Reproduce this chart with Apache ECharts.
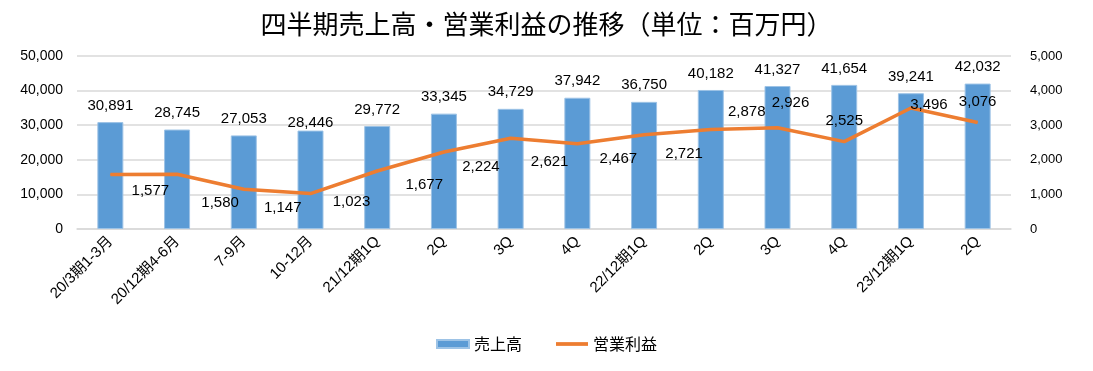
<!DOCTYPE html>
<html>
<head>
<meta charset="utf-8">
<script src="https://cdn.jsdelivr.net/npm/echarts@6/dist/echarts.min.js"></script>
<style>
html,body{margin:0;padding:0;background:#fff;}
#chart{width:1093px;height:371px;}
</style>
</head>
<body>
<div id="chart"></div>
<script>
const categories = ["20/3期1-3月","20/12期4-6月","7-9月","10-12月","21/12期1Q","2Q","3Q","4Q","22/12期1Q","2Q","3Q","4Q","23/12期1Q","2Q"];
const sales = [30891,28745,27053,28446,29772,33345,34729,37942,36750,40182,41327,41654,39241,42032];
const operatingProfit = [1577,1580,1147,1023,1677,2224,2621,2467,2721,2878,2926,2525,3496,3076];
const leftTicks = [0,10000,20000,30000,40000,50000];
const rightTicks = [0,1000,2000,3000,4000,5000];

// label placement tweaks (as in the original, manually placed labels)
const lineLabelOffsets = [[40,16],[43,29],[39,19],[41,8],[47,14],[37,15],[39,24],[41,15],[40,19],[36,-18],[13,-25],[0,-21],[18,-3],[0,-21]];
const barLabelOffsets = [[0,0],[0,0],[0,0],[0,9],[0,0],[0,0],[0,0],[0,0],[0,0],[0,0],[0,0],[0,0],[0,0],[0,0]];

const FONT = '"Liberation Sans","Noto Sans CJK JP",sans-serif';
const fmt = v => v.toLocaleString('en-US');

const chart = echarts.init(document.getElementById('chart'), null, {renderer:'canvas'});
chart.setOption({
  animation:false,
  textStyle:{fontFamily:FONT},
  title:{
    text:'四半期売上高・営業利益の推移（単位：百万円）',
    left:'center', top:6,
    textStyle:{fontFamily:'"Noto Sans CJK JP",sans-serif',fontSize:26,fontWeight:'normal',color:'#000'}
  },
  legend:{
    bottom:14, left:'center', itemGap:34,
    textStyle:{fontFamily:'"Noto Sans CJK JP",sans-serif',fontSize:16,color:'#000'},
    data:[
      {name:'売上高', icon:'rect', itemStyle:{color:'#5b9bd5'}},
      {name:'営業利益', icon:'path://M0,0H34V4H0Z', itemStyle:{color:'#ed7d31'}}
    ],
    itemWidth:32, itemHeight:8
  },
  grid:{left:77,right:82,top:56,bottom:142},
  xAxis:{
    type:'category', data:categories,
    axisLine:{show:true,lineStyle:{color:'#d9d9d9',width:1.5}},
    axisTick:{show:false},
    axisLabel:{rotate:45,fontSize:15,color:'#000',margin:10,interval:0,fontFamily:FONT}
  },
  yAxis:[
    {type:'value',min:leftTicks[0],max:leftTicks[leftTicks.length-1],interval:leftTicks[1]-leftTicks[0],
     axisLine:{show:false},axisTick:{show:false},
     splitLine:{lineStyle:{color:'#d9d9d9',width:1.5}},
     axisLabel:{fontSize:14,color:'#000',margin:14,formatter:v=>fmt(v)}},
    {type:'value',min:rightTicks[0],max:rightTicks[rightTicks.length-1],interval:rightTicks[1]-rightTicks[0],
     axisLine:{show:false},axisTick:{show:false},splitLine:{show:false},
     axisLabel:{fontSize:13,color:'#000',margin:19,formatter:v=>fmt(v)}}
  ],
  series:[
    {
      name:'売上高', type:'bar', yAxisIndex:0, barWidth:26,
      itemStyle:{color:'#5b9bd5',borderColor:'#9dc3e6',borderWidth:1},
      data:sales.map((v,i)=>({value:v,label:{offset:barLabelOffsets[i]}})),
      label:{show:true,position:'top',distance:9,fontSize:15,color:'#000',fontFamily:FONT,formatter:p=>fmt(p.value)}
    },
    {
      name:'営業利益', type:'line', yAxisIndex:1,
      symbol:'circle', symbolSize:1, showSymbol:true,
      lineStyle:{color:'#ed7d31',width:3.5},
      itemStyle:{color:'#ed7d31'},
      data:operatingProfit.map((v,i)=>({value:v,label:{offset:lineLabelOffsets[i]}})),
      label:{show:true,position:'inside',fontSize:15,color:'#000',fontFamily:FONT,formatter:p=>fmt(p.value)},
      z:3
    }
  ]
});
</script>
</body>
</html>
